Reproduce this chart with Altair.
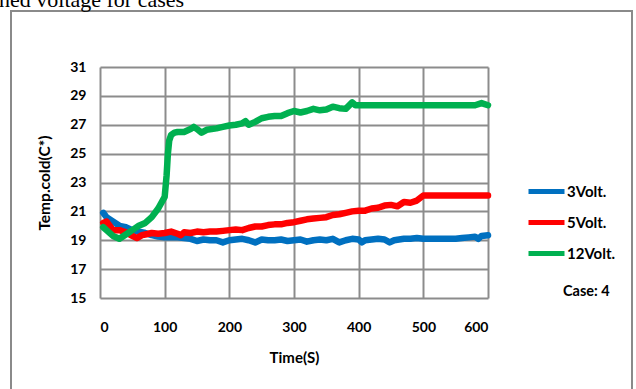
import altair as alt
import pandas as pd

# Cold-side temperature (C) versus time (s) for three supply voltages
t_3v = [5, 10, 20, 30, 40, 50, 60, 70, 80, 90, 100, 110, 120, 130, 140, 150, 160, 170,
        180, 190, 200, 210, 220, 230, 240, 250, 260, 270, 280, 290, 300, 310, 320, 330,
        340, 350, 360, 370, 380, 390, 400, 405, 410, 420, 430, 440, 448, 455, 470, 480,
        490, 500, 520, 540, 550, 560, 570, 580, 585, 590, 600]
temp_3v = [20.9, 20.6, 20.3, 20.0, 19.9, 19.7, 19.6, 19.5, 19.35, 19.25, 19.2, 19.2, 19.2,
           19.15, 19.1, 18.95, 19.05, 19.0, 19.0, 18.85, 19.0, 19.05, 19.1, 19.0, 18.85,
           19.05, 19.0, 19.0, 19.05, 18.95, 19.0, 19.05, 18.9, 19.0, 19.05, 19.0, 19.1,
           18.85, 19.0, 19.1, 19.05, 18.85, 19.0, 19.05, 19.1, 19.05, 18.85, 19.0, 19.1,
           19.1, 19.15, 19.1, 19.1, 19.1, 19.1, 19.15, 19.2, 19.25, 19.1, 19.3, 19.35]

t_5v = [5, 10, 15, 20, 30, 40, 50, 57, 65, 70, 80, 90, 100, 110, 120, 125, 130, 140, 150,
        160, 170, 180, 190, 200, 210, 220, 230, 240, 250, 260, 270, 280, 290, 300, 310,
        320, 330, 340, 350, 360, 370, 380, 390, 400, 410, 420, 430, 440, 450, 460, 470,
        480, 490, 500, 520, 540, 560, 580, 600]
temp_5v = [20.2, 20.3, 20.0, 19.7, 19.7, 19.55, 19.3, 19.15, 19.35, 19.4, 19.5, 19.45, 19.5,
           19.6, 19.45, 19.35, 19.55, 19.5, 19.6, 19.55, 19.6, 19.6, 19.65, 19.7, 19.75,
           19.7, 19.85, 19.95, 19.95, 20.05, 20.1, 20.1, 20.2, 20.25, 20.35, 20.45, 20.5,
           20.55, 20.6, 20.75, 20.8, 20.9, 21.0, 21.05, 21.05, 21.2, 21.25, 21.4, 21.45,
           21.35, 21.65, 21.6, 21.75, 22.1, 22.1, 22.1, 22.1, 22.1, 22.1]

t_12v = [5, 10, 20, 30, 40, 50, 60, 70, 80, 90, 100, 103, 105, 107, 110, 115, 120, 130,
         140, 145, 150, 157, 165, 180, 190, 200, 210, 220, 225, 230, 240, 250, 260, 270,
         280, 290, 300, 310, 320, 330, 340, 350, 360, 370, 380, 390, 395, 400, 450, 500,
         550, 580, 590, 600]
temp_12v = [19.9, 19.7, 19.3, 19.1, 19.4, 19.7, 20.0, 20.2, 20.6, 21.2, 22.0, 23.5, 25.0,
            25.9, 26.3, 26.45, 26.5, 26.5, 26.7, 26.85, 26.7, 26.45, 26.65, 26.75, 26.85,
            26.95, 27.0, 27.1, 27.25, 27.0, 27.2, 27.45, 27.55, 27.6, 27.6, 27.8, 27.95,
            27.85, 27.95, 28.1, 28.0, 28.05, 28.25, 28.15, 28.1, 28.55, 28.35, 28.35, 28.35,
            28.35, 28.35, 28.35, 28.5, 28.35]

series_names = ["3Volt.", "5Volt.", "12Volt."]
series_colors = ["#0070C0", "#FF0000", "#00B050"]
x_ticks = [0, 100, 200, 300, 400, 500, 600]
y_ticks = [15, 17, 19, 21, 23, 25, 27, 29, 31]

rows = []
for name, ts, vs in zip(series_names, [t_3v, t_5v, t_12v], [temp_3v, temp_5v, temp_12v]):
    rows += [{"Time": t, "Temp": v, "Series": name, "order": i} for i, (t, v) in enumerate(zip(ts, vs))]
df = pd.DataFrame(rows)

FONT = "Lato"
GRID = "#8c8c8c"
one = pd.DataFrame({"k": [0]})

# outer frame around the whole figure (outline only, so the grid stays visible)
frame = alt.Chart(one).mark_rect(fillOpacity=0, stroke="#8a8a8a", strokeWidth=2).encode(
    x=alt.value(-89), x2=alt.value(532), y=alt.value(-56), y2=alt.value(400)
)

caption = alt.Chart(one).mark_text(
    text="ned voltage for cases", font="Liberation Serif", fontSize=22,
    align="left", baseline="alphabetic", color="black"
).encode(x=alt.value(-101), y=alt.value(-60))

lines = alt.Chart(df).mark_line(strokeWidth=6.5, strokeCap="round", strokeJoin="round").encode(
    x=alt.X("Time:Q", title="Time(S)",
            scale=alt.Scale(domain=[0, 600], nice=False),
            axis=alt.Axis(values=x_ticks, labelPadding=22, titlePadding=16,
                          titleFontSize=15)),
    y=alt.Y("Temp:Q", title="Temp.cold(C*)",
            scale=alt.Scale(domain=[15, 31], nice=False, zero=False),
            axis=alt.Axis(values=y_ticks, labelPadding=14, titlePadding=17,
                          titleFontSize=15.5)),
    color=alt.Color("Series:N", sort=series_names,
                    scale=alt.Scale(domain=series_names, range=series_colors),
                    legend=alt.Legend(title=None, orient="none", legendX=426, legendY=104,
                                      symbolType="stroke", symbolSize=1296,
                                      symbolStrokeWidth=5, rowPadding=-4, padding=0,
                                      labelFont=FONT, labelFontWeight="bold",
                                      labelFontSize=15, labelColor="black", labelOffset=0)),
    order="order:Q",
)

case_label = alt.Chart(one).mark_text(
    text="Case: 4", font=FONT, fontWeight="bold", fontSize=14.5,
    align="left", baseline="middle", color="black"
).encode(x=alt.value(463), y=alt.value(225))

chart = alt.layer(frame, caption, lines, case_label).properties(
    width=388, height=231,
    autosize=alt.AutoSizeParams(type="none"),
    padding={"left": 100, "top": 67, "right": 148, "bottom": 91},
    background="white",
).configure_view(stroke=None).configure_axis(
    grid=True, gridColor=GRID, gridWidth=2, gridOpacity=1,
    domain=False, ticks=False,
    labelFont=FONT, labelFontWeight="bold", labelFontSize=14, labelColor="black",
    titleFont=FONT, titleFontWeight="bold", titleColor="black",
)

chart.save("out.html", embed_options={"renderer": "svg", "actions": False})
